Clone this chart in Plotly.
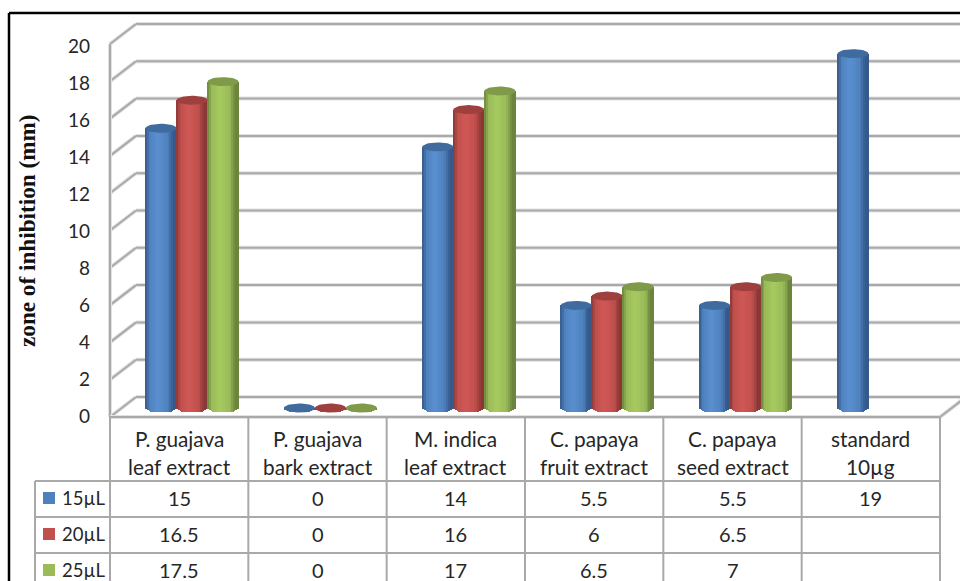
import numpy as np
import plotly.graph_objects as go

# Chart data
categories = [
    "P. guajava\nleaf extract",
    "P. guajava\nbark extract",
    "M. indica\nleaf extract",
    "C. papaya\nfruit extract",
    "C. papaya\nseed extract",
    "standard\n10µg",
]
series_names = ["15µL", "20µL", "25µL"]
values_15 = [15, 0, 14, 5.5, 5.5, 19]
values_20 = [16.5, 0, 16, 6, 6.5, None]
values_25 = [17.5, 0, 17, 6.5, 7, None]
y_ticks = list(range(0, 21, 2))

# Series colours: key/base, highlight, edge, cap
palette = [
    ("#4f81bd", "#5a90d0", "#35598a", "#3f6b9f"),
    ("#c0504d", "#d05856", "#8a3836", "#9d403e"),
    ("#9bbb59", "#a6ca5f", "#6c853d", "#7f9a48"),
]

W, H = 960, 581
UNIT_PX = 18.65       # pixels per value unit
GROUP_PX = 138.4      # pixels between categories
PLANE_BASE = 408      # pixel row of value 0 in the plane of the columns
FIRST_GROUP = 192     # pixel column of the first category
BACK_Y = 11 / UNIT_PX
FRONT_Y = 9 / UNIT_PX
COL_W = 31 / GROUP_PX
CAP_H = 4.5 / UNIT_PX

x_range = [-FIRST_GROUP / GROUP_PX, (W - FIRST_GROUP) / GROUP_PX]
y_range = [(PLANE_BASE - H) / UNIT_PX, PLANE_BASE / UNIT_PX]

# Scale for the tick labels, which run slightly tighter than the walls
LABEL_BASE, LABEL_UNIT = 416, 18.5
y2_range = [(LABEL_BASE - H) / LABEL_UNIT, LABEL_BASE / LABEL_UNIT]


def to_x(px):
    return (px - FIRST_GROUP) / GROUP_PX


def hex_rgb(c):
    return np.array([int(c[i:i + 2], 16) for i in (1, 3, 5)], float)


def shade(series, u):
    """Colour across a column, u running from -1 (left) to 1 (right)."""
    base, light, edge, _ = palette[series]
    stops = [-1.0, -0.72, -0.2, 0.45, 0.8, 1.0]
    cols = [edge, base, light, base, edge, edge]
    rgb = [np.interp(u, stops, [hex_rgb(c)[k] for c in cols]) for k in range(3)]
    return "rgb(%d,%d,%d)" % tuple(rgb)


fig = go.Figure()

# Column bodies, built from narrow vertical strips for the round shading
N = 18
all_series = [values_15, values_20, values_25]
for s, vals in enumerate(all_series):
    xs, ys, bases, colours = [], [], [], []
    for g, v in enumerate(vals):
        if v is None:
            continue
        cx = g + (s - 1) * COL_W
        for i in range(N):
            u = -1 + (2 * i + 1) / N
            low = -CAP_H * np.sqrt(1 - u * u)
            xs.append(cx + u * COL_W / 2)
            bases.append(low)
            ys.append(v - low)
            colours.append(shade(s, u))
    fig.add_trace(go.Bar(
        x=xs, y=ys, base=bases, width=COL_W / N * 1.25,
        marker=dict(color=colours, line=dict(width=0)),
        hoverinfo="skip", showlegend=False,
    ))

# Column caps
t = np.linspace(0, 2 * np.pi, 49)
for s, vals in enumerate(all_series):
    ex, ey = [], []
    for g, v in enumerate(vals):
        if v is None:
            continue
        cx = g + (s - 1) * COL_W
        ex += list(cx + COL_W / 2 * np.cos(t)) + [None]
        ey += list(v + CAP_H * np.sin(t)) + [None]
    fig.add_trace(go.Scatter(
        x=ex, y=ey, mode="lines", fill="toself", fillcolor=palette[s][3],
        line=dict(width=0), hoverinfo="skip", showlegend=False,
    ))

GRID = "#a9a9a9"
HALO = "#e2e2e2"
LEFT_FRONT, LEFT_BACK = to_x(110), to_x(136)
RIGHT_FRONT, RIGHT_BACK = to_x(940), to_x(966)


def wall_line(x0, y0, x1, y1):
    for colour, width in ((HALO, 4), (GRID, 2)):
        fig.add_shape(type="line", xref="x", yref="y", x0=x0, y0=y0, x1=x1, y1=y1,
                      line=dict(color=colour, width=width), layer="below")


# Back wall grid and its run along the side wall
for v in y_ticks:
    wall_line(LEFT_BACK, v + BACK_Y, RIGHT_BACK, v + BACK_Y)
    wall_line(LEFT_FRONT, v - FRONT_Y, LEFT_BACK, v + BACK_Y)
# Front value axis and floor edges
wall_line(LEFT_FRONT, y_ticks[0] - FRONT_Y, LEFT_FRONT, y_ticks[-1] - FRONT_Y)
wall_line(LEFT_FRONT, -FRONT_Y, RIGHT_FRONT, -FRONT_Y)
wall_line(RIGHT_FRONT, -FRONT_Y, RIGHT_BACK, BACK_Y)

# Invisible carrier that keeps the tick label axis on the page
fig.add_trace(go.Scatter(
    x=[LEFT_FRONT] * len(y_ticks), y=y_ticks, yaxis="y2", mode="markers",
    marker=dict(size=1, opacity=0), hoverinfo="skip", showlegend=False,
))

# Data table below the plot
FONT = "Lato, Carlito, Calibri, sans-serif"
TEXT = "#262626"
TABLE_FS = 20
col_edges = [110 + i * 830 / 6 for i in range(7)]
row_edges = [417, 481, 517, 553, 589]
label_left = 35


def px_line(x0, y0, x1, y1, colour=GRID, width=2):
    fig.add_shape(type="line", xref="paper", yref="paper",
                  x0=x0 / W, x1=x1 / W, y0=1 - y0 / H, y1=1 - y1 / H,
                  line=dict(color=colour, width=width))


def px_text(x, y, text, **kw):
    opts = dict(size=TABLE_FS, family=FONT, color=TEXT)
    opts.update(kw.pop("font", {}))
    fig.add_annotation(xref="paper", yref="paper", x=x / W, y=1 - y / H, text=text,
                       showarrow=False, font=opts, xanchor=kw.pop("xanchor", "center"),
                       yanchor="middle", **kw)


for x in col_edges:
    px_line(x, row_edges[0], x, row_edges[-1])
px_line(label_left, row_edges[1], label_left, row_edges[-1])
for y in row_edges[1:]:
    px_line(label_left, y, col_edges[-1], y)

for g, name in enumerate(categories):
    mid = (col_edges[g] + col_edges[g + 1]) / 2
    for line_y, part in zip((438, 466), name.split("\n")):
        px_text(mid, line_y, part, font=dict(size=20.8))

for s, vals in enumerate(all_series):
    row_mid = (row_edges[s + 1] + row_edges[s + 2]) / 2 - 1
    fig.add_shape(type="rect", xref="paper", yref="paper",
                  x0=43 / W, x1=55 / W, y0=1 - (row_mid - 6) / H, y1=1 - (row_mid + 6) / H,
                  fillcolor=palette[s][0], line=dict(width=0))
    px_text(60, row_mid - 0.5, series_names[s], xanchor="left", font=dict(size=18.5))
    for g, v in enumerate(vals):
        if v is not None:
            px_text((col_edges[g] + col_edges[g + 1]) / 2, row_mid - 0.5, f"{v:g}")

# Value axis title
px_text(27, 231, "zone of inhibition (mm)", textangle=-90,
        font=dict(family="Liberation Serif, serif", size=23.2, color="#111111", weight="bold"))

# Black frame on the top and left
px_line(9, 13, W, 13, "#000000", 2.5)
px_line(9, 13, 9, H, "#000000", 2.5)

fig.update_layout(
    width=W, height=H, margin=dict(l=0, r=0, t=0, b=0),
    paper_bgcolor="white", plot_bgcolor="white", barmode="overlay", bargap=0,
    xaxis=dict(range=x_range, visible=False, fixedrange=True),
    yaxis=dict(range=y_range, visible=False, fixedrange=True),
    yaxis2=dict(
        range=y2_range, overlaying="y", anchor="free", position=110 / W, side="left",
        tickmode="array", tickvals=y_ticks, ticktext=[str(v) for v in y_ticks],
        showgrid=False, zeroline=False, showline=False, ticks="",
        ticklabelstandoff=20, tickfont=dict(family=FONT, size=19, color=TEXT),
        fixedrange=True,
    ),
)

fig.write_html("out.html", config=dict(displayModeBar=False))
